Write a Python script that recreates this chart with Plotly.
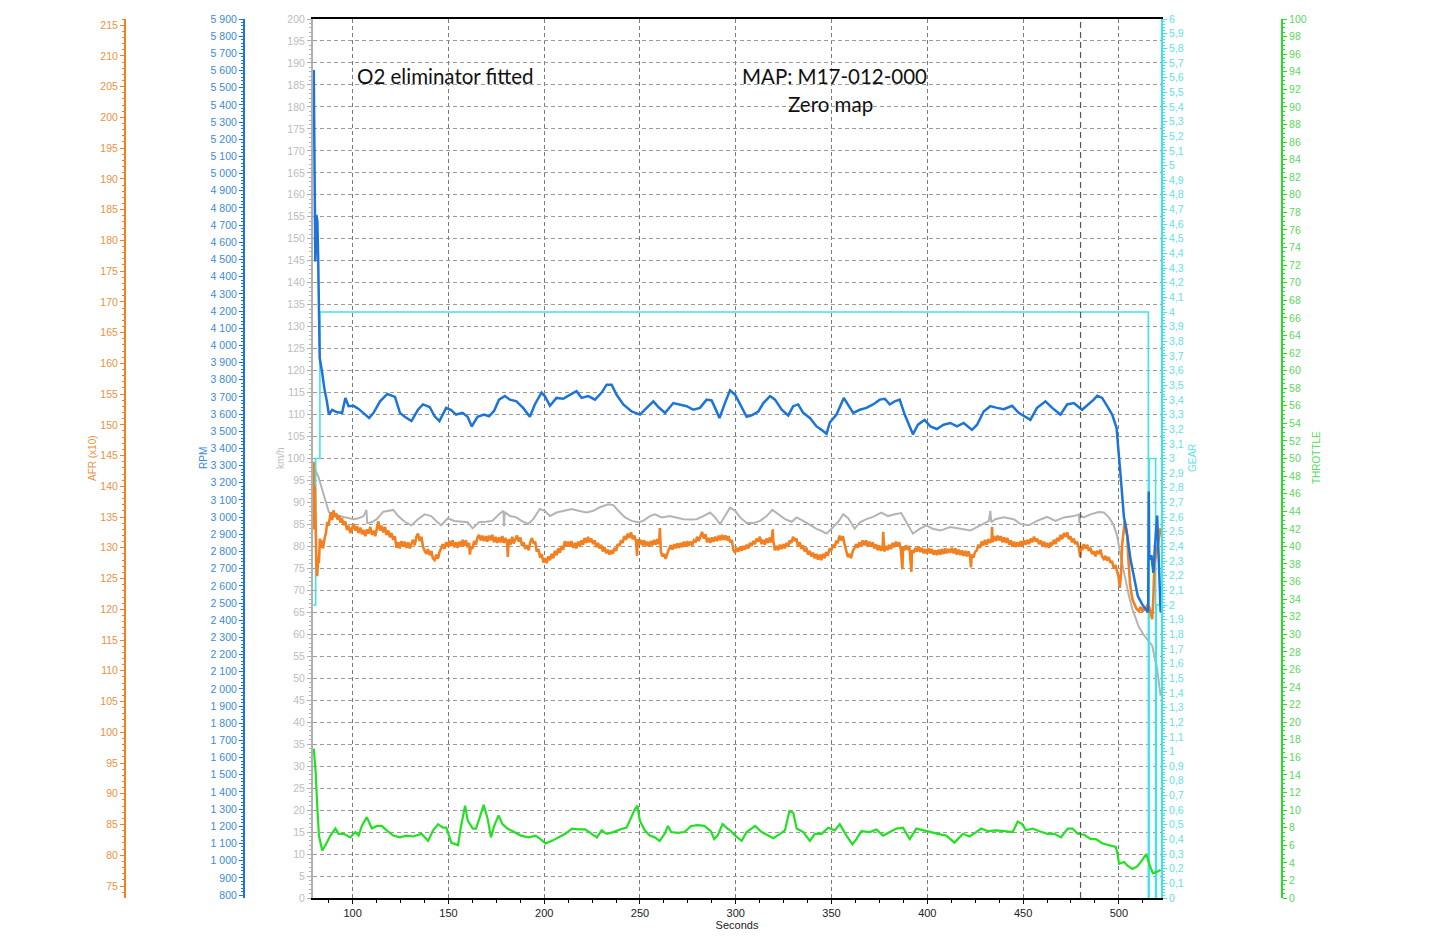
import plotly.graph_objects as go

# ---------------- data ----------------
# GEAR (step trace)
gear_points = [(79.4, 2), (80.7, 3), (82.9, 4), (515.4, 0), (515.8, 3), (519.2, 0), (519.6, 2), (522.0, 2)]

# THROTTLE (%)
throttle_points = [
    (79.7, 17.0), (80.7, 14.3), (81.5, 10.5), (82.4, 7.1), (84.1, 5.4), (85.8, 6.0), (88.4, 7.1), (91.0, 7.9),
    (92.7, 7.3), (95.3, 7.3), (98.8, 6.9), (101.4, 7.5), (103.1, 7.1), (104.8, 8.2), (107.4, 9.2), (110.0, 7.9),
    (112.6, 8.2), (115.2, 8.2), (117.8, 7.7), (121.2, 7.1), (124.7, 6.9), (128.1, 7.1), (131.6, 7.0), (135.9, 7.3),
    (139.4, 6.5), (142.0, 7.7), (144.6, 8.4), (147.1, 8.0), (148.9, 8.0), (151.5, 6.3), (155.0, 6.0), (156.6, 8.2),
    (158.7, 10.5), (160.1, 8.8), (162.7, 7.9), (164.4, 7.9), (166.1, 9.0), (168.4, 10.6), (170.5, 9.0), (172.2, 6.9),
    (173.9, 8.2), (176.2, 9.4), (178.2, 8.4), (180.8, 7.9), (184.3, 7.5), (187.7, 7.1), (192.0, 6.9), (195.5, 7.1),
    (198.1, 6.7), (200.7, 6.2), (204.1, 6.5), (207.6, 6.9), (211.0, 7.3), (214.5, 7.9), (217.9, 7.8), (221.4, 7.8),
    (224.9, 7.3), (227.5, 6.9), (230.0, 7.7), (232.6, 7.3), (236.1, 7.5), (239.5, 7.8), (243.0, 8.0), (245.6, 9.2),
    (247.3, 10.1), (248.7, 10.5), (249.9, 8.8), (252.5, 7.7), (255.1, 7.1), (257.7, 6.9), (260.3, 6.5), (262.9, 7.3),
    (264.6, 8.2), (266.3, 7.5), (269.8, 7.4), (273.2, 7.5), (276.7, 8.2), (280.1, 8.3), (283.6, 8.2), (287.0, 7.6),
    (288.7, 6.7), (290.5, 7.1), (293.1, 8.4), (295.7, 7.9), (297.0, 7.7), (299.7, 7.1), (303.1, 6.5), (305.7, 7.5),
    (310.1, 8.2), (313.5, 7.5), (317.0, 7.1), (319.6, 6.8), (323.1, 7.3), (325.7, 7.7), (328.0, 9.9), (330.0, 9.7),
    (331.8, 7.9), (335.2, 7.5), (338.7, 6.5), (341.3, 7.3), (344.8, 7.3), (348.3, 8.0), (351.7, 7.7), (354.3, 8.4),
    (357.8, 7.1), (360.9, 6.1), (363.0, 6.7), (365.6, 7.6), (370.0, 7.5), (373.4, 7.8), (376.9, 7.1), (380.4, 7.5),
    (383.9, 7.9), (387.3, 8.0), (390.8, 6.7), (394.3, 7.9), (397.7, 7.7), (401.2, 7.5), (405.5, 7.3), (409.9, 7.1),
    (414.2, 6.3), (418.6, 7.3), (422.0, 7.0), (425.5, 7.5), (428.1, 7.9), (431.6, 7.6), (435.9, 7.7), (440.3, 7.6),
    (444.6, 7.5), (447.2, 8.7), (449.5, 8.4), (451.5, 7.7), (455.0, 7.9), (458.5, 7.6), (462.8, 7.3), (466.3, 7.3),
    (469.8, 6.9), (473.3, 7.9), (475.8, 7.9), (478.5, 7.3), (481.9, 7.2), (485.4, 6.7), (488.0, 6.7), (491.5, 6.2),
    (494.9, 6.0), (498.4, 5.8), (499.3, 5.0), (500.1, 3.9), (502.7, 4.1), (504.4, 3.7), (507.0, 3.3), (509.6, 3.6),
    (512.2, 4.3), (514.3, 5.0), (516.1, 3.7), (517.8, 2.8), (520.0, 3.0), (521.8, 3.2),
]

# Speed (km/h)
speed_points = [
    (79.7, 99.0), (80.7, 97.1), (82.0, 96.0), (84.1, 93.0), (85.8, 90.0), (87.6, 87.8), (90.2, 87.3), (92.8, 86.9),
    (97.1, 86.5), (100.5, 86.2), (103.1, 86.4), (105.7, 86.9), (107.2, 88.3), (107.6, 85.3), (110.0, 85.5),
    (112.6, 86.2), (116.0, 87.9), (118.6, 88.1), (121.2, 88.3), (123.8, 86.9), (127.2, 85.6), (130.7, 84.8),
    (134.1, 86.2), (137.6, 87.3), (141.0, 86.9), (143.6, 85.8), (146.2, 84.8), (149.7, 86.4), (153.1, 85.8),
    (157.4, 85.6), (160.0, 85.5), (162.6, 84.1), (166.0, 85.5), (169.5, 85.6), (172.9, 85.8), (176.4, 87.3),
    (178.7, 88.1), (179.0, 84.6), (179.4, 87.8), (182.1, 86.9), (185.5, 86.6), (188.2, 85.8), (191.6, 85.1),
    (194.3, 86.2), (197.7, 88.5), (200.3, 88.1), (203.0, 86.9), (206.4, 87.7), (210.8, 88.1), (214.3, 88.5),
    (217.8, 88.1), (222.1, 87.7), (225.6, 88.1), (229.1, 88.9), (233.4, 89.6), (236.1, 89.4), (238.7, 88.1),
    (242.2, 86.6), (245.6, 85.8), (249.1, 85.5), (251.7, 85.8), (255.2, 86.9), (257.8, 87.3), (261.3, 86.6),
    (265.7, 86.9), (269.2, 86.6), (272.6, 86.2), (276.1, 86.1), (279.6, 86.2), (283.1, 86.9), (286.6, 87.7),
    (289.2, 86.6), (291.8, 85.1), (294.4, 86.9), (297.0, 88.8), (299.7, 88.1), (302.3, 86.6), (305.7, 85.3),
    (309.2, 85.3), (312.7, 85.8), (316.1, 86.9), (319.1, 88.3), (322.2, 87.3), (325.7, 86.2), (329.2, 85.6),
    (331.8, 86.6), (335.2, 85.8), (338.7, 84.8), (342.2, 84.0), (344.8, 83.5), (347.4, 82.9), (350.0, 84.0),
    (353.5, 85.6), (356.1, 87.3), (358.7, 86.4), (362.1, 84.0), (364.8, 85.5), (368.2, 86.2), (371.7, 86.7),
    (376.0, 87.7), (379.5, 86.9), (383.0, 87.3), (386.4, 87.6), (389.1, 85.5), (392.5, 82.9), (396.0, 84.0),
    (399.5, 84.8), (402.9, 84.0), (406.8, 83.6), (412.0, 84.4), (417.3, 84.0), (422.5, 83.6), (427.7, 84.8),
    (432.1, 85.8), (432.9, 88.1), (433.4, 85.5), (435.5, 86.2), (439.9, 86.6), (445.1, 86.2), (448.6, 85.1),
    (453.0, 84.8), (457.3, 85.8), (462.5, 86.7), (466.9, 85.8), (471.3, 86.6), (476.5, 86.9), (479.1, 87.3),
    (479.4, 85.3), (479.8, 87.0), (481.7, 86.6), (485.2, 87.3), (489.5, 87.8), (492.2, 87.7), (494.8, 86.6),
    (497.0, 85.1), (499.1, 82.4), (500.9, 77.9), (503.0, 73.3), (505.2, 68.8), (507.0, 65.8), (508.7, 63.5),
    (510.4, 61.7), (513.1, 59.8), (515.7, 58.5), (517.4, 57.4), (520.0, 52.1), (521.8, 46.0),
]

# AFR (x10)
afr_points = [
    (79.6, 144.0), (79.9, 133.0), (80.3, 140.0), (80.7, 132.5), (81.1, 127.0), (81.5, 125.4), (82.0, 128.5),
    (82.4, 127.5), (82.9, 131.5), (83.4, 130.0), (83.9, 131.2), (84.5, 129.9), (85.0, 131.0), (85.6, 131.9),
    (86.1, 132.4), (86.7, 134.2), (87.4, 133.6), (88.0, 134.9), (88.6, 135.8), (89.3, 134.5), (90.0, 136.1),
    (90.7, 135.0), (91.4, 135.6), (92.1, 134.6), (92.9, 135.3), (93.6, 134.1), (94.4, 134.8), (95.3, 133.7),
    (96.1, 134.3), (97.1, 132.9), (97.9, 133.6), (98.8, 132.4), (99.7, 133.2), (100.5, 133.9), (101.4, 132.8),
    (102.3, 133.5), (103.1, 132.4), (104.0, 133.3), (104.9, 132.2), (105.7, 132.9), (106.6, 131.9), (107.5, 133.0),
    (108.3, 132.3), (109.2, 133.4), (110.1, 132.1), (110.9, 132.8), (111.8, 131.9), (112.6, 133.1), (113.4, 134.3),
    (114.3, 132.8), (115.1, 133.6), (116.0, 132.5), (116.9, 133.4), (117.7, 132.1), (118.6, 132.8), (119.5, 131.7),
    (120.3, 132.4), (121.2, 131.3), (122.0, 131.9), (122.9, 130.0), (123.8, 130.9), (124.6, 129.9), (125.5, 131.1),
    (126.4, 130.2), (127.2, 131.0), (128.1, 130.0), (129.0, 130.9), (129.8, 129.9), (130.7, 130.7), (131.5, 131.3),
    (132.4, 130.4), (133.3, 131.8), (134.1, 132.3), (135.0, 131.1), (135.9, 131.8), (136.7, 130.2), (137.6, 129.5),
    (138.5, 129.0), (139.3, 129.8), (140.2, 128.8), (141.1, 129.5), (141.9, 128.3), (142.8, 128.0), (143.7, 128.9),
    (144.5, 128.2), (145.3, 129.3), (146.2, 129.9), (147.0, 130.6), (147.9, 129.8), (148.8, 130.9), (149.7, 130.2),
    (150.5, 131.1), (151.4, 130.3), (152.2, 131.2), (153.1, 130.1), (154.0, 130.9), (154.8, 130.0), (155.7, 131.0),
    (156.6, 130.2), (157.4, 131.3), (158.3, 130.3), (159.1, 131.2), (160.0, 130.1), (160.8, 130.8), (161.2, 128.9),
    (161.7, 130.2), (162.5, 129.8), (163.4, 131.1), (164.3, 130.5), (165.2, 131.7), (166.0, 132.1), (166.9, 131.2),
    (167.7, 132.0), (168.6, 131.1), (169.5, 131.9), (170.3, 131.0), (171.2, 132.0), (172.0, 131.2), (172.9, 132.1),
    (173.8, 130.9), (174.6, 131.8), (175.5, 130.8), (176.4, 131.7), (177.2, 130.9), (178.1, 131.9), (178.9, 130.8),
    (179.8, 131.6), (180.7, 130.6), (181.0, 128.5), (181.5, 131.4), (182.4, 130.5), (183.3, 131.8), (184.1, 130.7),
    (185.0, 131.5), (185.8, 132.0), (186.7, 131.0), (187.6, 131.7), (188.4, 130.3), (189.3, 130.9), (190.1, 129.8),
    (191.0, 130.4), (191.9, 129.6), (192.7, 130.9), (193.6, 131.6), (194.4, 130.7), (195.3, 131.0), (196.1, 129.4),
    (197.0, 129.8), (197.9, 128.4), (198.7, 129.0), (199.6, 127.6), (200.4, 128.3), (201.3, 127.5), (202.1, 128.6),
    (203.0, 128.0), (203.9, 129.0), (204.7, 128.3), (205.6, 129.5), (206.5, 128.8), (207.3, 129.9), (208.2, 129.2),
    (209.0, 130.3), (209.9, 129.7), (210.8, 131.1), (211.6, 130.3), (212.5, 131.0), (213.4, 130.2), (214.2, 131.1),
    (215.1, 130.0), (216.0, 130.8), (216.8, 129.9), (217.7, 131.0), (218.6, 130.3), (219.4, 131.2), (220.3, 130.5),
    (221.1, 131.6), (222.0, 130.8), (222.9, 131.8), (223.7, 130.9), (224.6, 131.5), (225.5, 130.6), (226.3, 131.2),
    (227.2, 130.1), (228.1, 130.8), (228.9, 129.9), (229.8, 130.5), (230.6, 129.4), (231.5, 130.1), (232.4, 129.1),
    (233.2, 129.7), (234.1, 128.9), (235.0, 129.6), (235.8, 129.0), (236.7, 130.0), (237.5, 129.5), (238.4, 130.6),
    (239.3, 130.3), (240.1, 131.2), (241.0, 130.8), (241.8, 131.9), (242.7, 131.3), (243.6, 132.3), (244.4, 131.6),
    (245.3, 132.5), (246.2, 131.4), (247.0, 132.0), (247.9, 131.1), (248.5, 128.7), (248.8, 131.4), (249.6, 130.5),
    (250.5, 131.3), (251.4, 130.4), (252.2, 131.2), (253.1, 130.3), (253.9, 131.0), (254.8, 130.2), (255.7, 131.1),
    (256.5, 130.4), (257.4, 131.3), (258.3, 130.5), (259.1, 131.4), (260.0, 130.6), (260.4, 133.2), (260.9, 129.4),
    (261.7, 128.6), (262.6, 129.0), (263.4, 128.2), (264.3, 129.1), (265.2, 129.8), (266.0, 130.4), (266.9, 129.7),
    (267.8, 130.6), (268.6, 129.9), (269.5, 130.7), (270.3, 130.0), (271.2, 130.8), (272.1, 130.1), (272.9, 131.0),
    (273.8, 130.2), (274.7, 131.1), (275.5, 130.3), (276.4, 131.0), (277.3, 130.4), (278.1, 131.2), (279.0, 130.9),
    (279.8, 131.8), (280.7, 131.1), (281.6, 132.1), (282.4, 132.6), (283.3, 131.5), (284.2, 132.2), (285.0, 130.9),
    (285.9, 131.6), (286.7, 130.8), (287.6, 131.7), (288.5, 131.0), (289.3, 131.8), (290.2, 131.1), (291.1, 132.0),
    (291.9, 131.2), (292.8, 132.1), (293.6, 131.3), (294.5, 132.0), (295.4, 131.2), (296.2, 131.9), (297.1, 130.9),
    (297.9, 131.3), (298.8, 129.6), (299.7, 129.2), (300.5, 130.0), (301.4, 129.4), (302.3, 130.2), (303.1, 129.5),
    (304.0, 130.3), (304.8, 129.7), (305.7, 130.5), (306.6, 129.9), (307.4, 130.8), (308.3, 130.3), (309.2, 131.1),
    (310.0, 130.6), (310.9, 131.5), (311.8, 131.0), (312.6, 131.8), (313.5, 130.6), (314.4, 131.3), (315.2, 130.5),
    (316.1, 131.5), (317.0, 130.8), (317.8, 131.7), (318.7, 130.9), (319.3, 133.0), (319.6, 131.2), (320.4, 129.6),
    (321.3, 130.3), (322.2, 129.6), (323.0, 130.5), (323.9, 129.8), (324.8, 130.6), (325.6, 129.9), (326.5, 130.8),
    (327.3, 130.2), (328.2, 131.2), (329.1, 130.8), (329.9, 131.8), (330.8, 131.1), (331.7, 131.5), (332.5, 130.2),
    (333.4, 130.9), (334.3, 129.8), (335.1, 130.4), (336.0, 129.4), (336.9, 130.0), (337.7, 128.9), (338.6, 129.5),
    (339.5, 128.6), (340.3, 129.2), (341.2, 128.3), (342.0, 129.0), (342.9, 128.1), (343.8, 128.9), (344.6, 128.0),
    (345.5, 129.0), (346.4, 128.3), (347.2, 129.3), (348.1, 128.7), (349.0, 129.9), (349.8, 129.5), (350.7, 130.5),
    (351.6, 130.0), (352.4, 131.0), (353.3, 130.9), (354.2, 132.0), (355.0, 131.2), (355.9, 131.9), (356.8, 130.6),
    (357.6, 129.6), (358.5, 128.5), (359.4, 129.0), (360.2, 128.3), (361.1, 129.5), (361.9, 129.9), (362.8, 130.6),
    (363.7, 130.0), (364.5, 130.9), (365.4, 130.3), (366.3, 131.2), (367.1, 130.4), (368.0, 131.2), (368.9, 130.3),
    (369.7, 131.0), (370.6, 130.2), (371.5, 130.9), (372.3, 129.9), (373.2, 130.6), (374.1, 129.6), (374.9, 130.4),
    (375.8, 129.5), (376.7, 130.2), (377.0, 132.6), (377.5, 129.4), (378.4, 130.3), (379.3, 129.6), (380.1, 130.5),
    (381.0, 129.8), (381.9, 130.8), (382.7, 130.1), (383.6, 131.0), (384.5, 130.2), (385.3, 130.9), (386.2, 129.7),
    (387.0, 126.5), (387.3, 130.1), (388.0, 129.6), (388.8, 130.4), (389.7, 129.7), (390.6, 130.3), (391.4, 127.9),
    (391.7, 126.1), (392.0, 129.6), (392.9, 129.2), (393.8, 130.0), (394.6, 129.4), (395.5, 130.2), (396.4, 129.3),
    (397.2, 130.0), (398.1, 129.1), (399.0, 129.8), (399.8, 129.0), (400.7, 129.9), (401.6, 129.1), (402.4, 129.8),
    (403.3, 128.9), (404.2, 129.6), (405.0, 128.8), (405.9, 129.7), (406.8, 128.9), (407.6, 129.8), (408.5, 129.0),
    (409.4, 129.9), (410.2, 129.1), (411.1, 129.8), (412.0, 129.2), (412.8, 130.0), (413.7, 129.1), (414.6, 129.9),
    (415.4, 128.9), (416.3, 129.7), (417.2, 128.8), (418.0, 129.6), (418.9, 128.7), (419.8, 129.5), (420.6, 128.6),
    (421.5, 129.4), (422.4, 128.5), (422.8, 126.8), (423.2, 128.9), (424.1, 128.4), (424.9, 129.3), (425.8, 129.6),
    (426.7, 130.5), (427.5, 130.0), (428.4, 131.0), (429.3, 130.4), (430.1, 131.3), (431.0, 130.5), (431.9, 131.4),
    (432.7, 130.8), (433.6, 131.5), (433.8, 133.4), (434.1, 130.9), (434.9, 131.9), (435.8, 131.1), (436.7, 132.0),
    (437.5, 131.2), (438.4, 131.9), (439.2, 130.9), (440.1, 131.7), (441.0, 130.8), (441.8, 131.6), (442.7, 130.5),
    (443.6, 131.2), (444.4, 130.2), (445.3, 131.0), (446.2, 130.1), (447.0, 130.9), (447.9, 130.2), (448.8, 131.1),
    (449.6, 130.3), (450.5, 131.2), (451.4, 130.5), (452.2, 131.3), (453.1, 130.6), (454.0, 131.5), (454.8, 130.9),
    (455.7, 131.8), (456.6, 131.0), (457.4, 131.5), (458.3, 130.6), (459.2, 131.2), (460.0, 130.3), (460.9, 131.0),
    (461.8, 130.1), (462.6, 130.8), (463.5, 130.0), (464.4, 130.9), (465.2, 130.4), (466.1, 131.3), (467.0, 130.6),
    (467.8, 131.6), (468.7, 131.1), (469.6, 132.1), (470.4, 131.4), (471.3, 132.4), (472.2, 131.8), (473.0, 132.5),
    (473.9, 131.4), (474.7, 131.9), (475.6, 130.9), (476.5, 131.5), (477.3, 130.6), (478.2, 131.0), (479.1, 130.0),
    (479.8, 128.5), (480.3, 130.3), (480.9, 129.6), (481.7, 130.6), (482.6, 129.9), (483.5, 130.5), (484.3, 129.5),
    (485.2, 130.0), (486.0, 129.0), (486.9, 129.4), (487.8, 128.6), (488.6, 129.5), (489.5, 129.0), (490.4, 129.7),
    (491.2, 128.6), (492.1, 128.2), (493.0, 128.7), (493.8, 127.9), (494.7, 128.5), (495.6, 127.6), (496.4, 127.9),
    (497.3, 126.7), (498.2, 127.2), (499.1, 125.9), (499.9, 125.2), (500.5, 123.5), (501.2, 126.0), (501.7, 130.5),
    (502.4, 133.0), (503.1, 134.3), (503.8, 133.2), (504.4, 131.9), (504.9, 128.5), (505.3, 126.2), (505.8, 124.3),
    (506.4, 122.8), (507.2, 121.5), (508.2, 120.8), (509.2, 120.1), (510.4, 119.7), (511.4, 120.4), (512.3, 119.6),
    (513.1, 120.3), (514.0, 119.8), (514.8, 120.6), (515.7, 120.5), (516.4, 119.5), (517.0, 118.8), (517.4, 118.4),
    (517.9, 121.0), (518.6, 127.4), (519.3, 128.6), (520.0, 130.1), (520.8, 131.5), (521.8, 133.2),
]

# RPM
rpm_points = [
    (79.7, 5603), (80.0, 5186), (80.5, 4488), (81.1, 4759), (81.6, 4720), (82.0, 4508), (82.3, 4178), (82.8, 3927),
    (84.0, 3848), (85.2, 3751), (86.6, 3671), (87.6, 3597), (89.3, 3625), (91.9, 3610), (94.5, 3607), (96.2, 3694),
    (97.9, 3646), (100.5, 3648), (103.1, 3630), (105.7, 3607), (108.6, 3577), (110.9, 3607), (114.3, 3674),
    (118.1, 3717), (122.1, 3700), (124.7, 3607), (127.2, 3584), (130.7, 3559), (134.1, 3625), (136.7, 3656),
    (140.2, 3641), (142.8, 3587), (145.3, 3559), (148.8, 3636), (151.4, 3623), (154.0, 3597), (157.4, 3607),
    (160.0, 3584), (162.2, 3528), (165.2, 3584), (168.6, 3597), (171.2, 3587), (173.8, 3618), (176.4, 3684),
    (179.5, 3705), (182.1, 3684), (185.5, 3674), (189.0, 3636), (192.5, 3584), (195.1, 3656), (198.6, 3725),
    (200.3, 3705), (203.0, 3648), (206.4, 3694), (209.9, 3689), (213.4, 3712), (216.9, 3733), (219.5, 3694),
    (223.0, 3705), (226.5, 3684), (230.0, 3725), (232.6, 3771), (235.2, 3771), (237.8, 3712), (241.3, 3656),
    (245.6, 3615), (250.0, 3597), (253.5, 3636), (257.0, 3674), (259.6, 3641), (263.1, 3607), (267.4, 3664),
    (270.9, 3656), (274.4, 3646), (277.9, 3625), (281.3, 3636), (284.8, 3684), (287.4, 3679), (289.2, 3636),
    (291.5, 3577), (294.4, 3665), (297.0, 3738), (299.7, 3712), (302.3, 3656), (305.7, 3584), (308.3, 3592),
    (311.8, 3615), (314.4, 3664), (317.9, 3705), (320.5, 3684), (324.0, 3625), (327.4, 3592), (330.0, 3646),
    (332.6, 3656), (335.2, 3607), (338.7, 3577), (342.2, 3528), (344.8, 3508), (347.4, 3485), (349.1, 3551),
    (352.6, 3597), (356.4, 3694), (358.7, 3656), (361.3, 3607), (364.8, 3625), (368.2, 3636), (371.7, 3656),
    (375.2, 3684), (377.8, 3689), (380.4, 3656), (383.0, 3674), (385.6, 3684), (388.2, 3597), (390.8, 3528),
    (392.5, 3482), (395.1, 3538), (398.6, 3566), (401.6, 3528), (405.0, 3513), (408.5, 3538), (412.0, 3548),
    (415.5, 3528), (419.0, 3548), (423.3, 3508), (426.0, 3538), (429.4, 3615), (432.9, 3646), (436.4, 3636),
    (439.9, 3628), (444.3, 3648), (447.7, 3607), (451.2, 3584), (453.8, 3566), (457.3, 3636), (461.7, 3674),
    (465.2, 3636), (469.5, 3597), (473.0, 3656), (476.5, 3664), (480.8, 3625), (484.3, 3656), (486.9, 3684),
    (488.7, 3707), (491.3, 3694), (493.9, 3646), (496.5, 3597), (498.8, 3520), (500.0, 3375), (501.2, 3201),
    (502.6, 3006), (504.4, 2891), (506.1, 2753), (508.2, 2627), (509.9, 2540), (512.2, 2492), (513.9, 2464),
    (515.3, 2446), (515.6, 3149), (515.9, 2753), (517.0, 2778), (518.0, 2676), (519.3, 2906), (520.0, 3009),
    (521.0, 2702), (521.8, 2446),
]

annotations_text = ["O2 eliminator fitted", "MAP: M17-012-000", "Zero map"]
marker_second = 480


def split(points):
    return [p[0] for p in points], [p[1] for p in points]


# ---------------- geometry / styles ----------------
W, H = 1434, 951
PL, PR = 313, 1161
x_dom = [PL / W, PR / W]

C_AFR = "#f28021"
C_AFR_T = "#e99244"
C_RPM = "#1c74d8"
C_RPM_T = "#3a8ad8"
C_KMH = "#b4b4b4"
C_KMH_T = "#bcbcbc"
C_GEAR = "#3fe3ea"
C_GEAR_T = "#63dfe8"
C_THR = "#22e022"
C_THR_T = "#5cd85c"

TF = "Liberation Sans, Arial, sans-serif"

fig = go.Figure()

gt, gv = split(gear_points)
fig.add_trace(go.Scatter(x=gt, y=gv, yaxis="y2", mode="lines", line=dict(color=C_GEAR, width=1.6, shape="hv")))
tt, tv = split(throttle_points)
fig.add_trace(go.Scatter(x=tt, y=tv, yaxis="y3", mode="lines", line=dict(color=C_THR, width=2.2)))
st, sv = split(speed_points)
fig.add_trace(go.Scatter(x=st, y=sv, yaxis="y", mode="lines", line=dict(color=C_KMH, width=2)))
at, av = split(afr_points)
fig.add_trace(go.Scatter(x=at, y=av, yaxis="y4", mode="lines", line=dict(color=C_AFR, width=2.6)))
rt, rv = split(rpm_points)
fig.add_trace(go.Scatter(x=rt, y=rv, yaxis="y5", mode="lines", line=dict(color=C_RPM, width=2.5)))


def side_axis(color, tcolor, rng, dtick, minor_dtick, side, position=None, anchor="free", **kw):
    d = dict(
        range=rng, dtick=dtick, tick0=0, side=side, showgrid=False, zeroline=False,
        showline=True, linecolor=color, linewidth=2, ticks="outside", ticklen=4, tickwidth=1,
        tickcolor=color, tickfont=dict(family=TF, size=10.5, color=tcolor),
        minor=dict(dtick=minor_dtick, ticklen=2, tickcolor=color, showgrid=False),
        fixedrange=True,
    )
    if anchor == "free":
        d.update(anchor="free", position=position, overlaying="y")
    else:
        d.update(anchor=anchor, overlaying="y")
    d.update(kw)
    return d


fig.update_layout(
    width=W, height=H,
    margin=dict(l=0, r=0, t=19, b=53),
    paper_bgcolor="white", plot_bgcolor="white",
    showlegend=False, hovermode=False,
    separators=", ",
    xaxis=dict(
        domain=x_dom, range=[79.3, 522.0], dtick=50, tick0=0,
        showgrid=True, gridcolor="#7a7a7a", griddash="4px,3px", gridwidth=1,
        zeroline=False, showline=True, linecolor="black", linewidth=2, mirror=True,
        ticks="outside", ticklen=4, tickcolor="black",
        minor=dict(dtick=12.5, ticklen=3, tickcolor="black", showgrid=False),
        tickfont=dict(family=TF, size=11, color="#222"),
        title=dict(text="Seconds", font=dict(family=TF, size=11, color="#222"), standoff=2),
    ),
    yaxis=dict(
        domain=[0, 1], range=[0, 200], dtick=5, tick0=0,
        showgrid=True, gridcolor="#9a9a9a", griddash="4px,3px", gridwidth=1,
        zeroline=False, showline=True, linecolor="#b0b0b0", linewidth=2,
        ticks="outside", ticklen=4, tickcolor="#b0b0b0",
        minor=dict(dtick=1, ticklen=2, tickcolor="#b0b0b0", showgrid=False),
        tickfont=dict(family=TF, size=10.5, color=C_KMH_T),
    ),
    yaxis2=side_axis(C_GEAR, C_GEAR_T, [0, 6], 0.1, 0.02, "right", anchor="x"),
    yaxis3=side_axis(C_THR, C_THR_T, [0, 100], 2, 0.5, "right", position=1282 / W),
    yaxis4=side_axis(C_AFR, C_AFR_T, [73.05, 216.0], 5, 1, "left", position=125 / W),
    yaxis5=side_axis(C_RPM, C_RPM_T, [782.6, 5900], 100, 20, "left", position=244 / W,
                     separatethousands=True),
)

# dashed marker line
fig.add_shape(type="line", xref="x", yref="paper", x0=marker_second, x1=marker_second, y0=0, y1=1,
              line=dict(color="#555555", width=1.2, dash="6px,4px"))

# text annotations inside the plot
AF = "Lato, Open Sans, sans-serif"
fig.add_annotation(x=101.0, y=187.0, xref="x", yref="y", text=annotations_text[0], showarrow=False,
                   xanchor="left", yanchor="middle", font=dict(family=AF, size=20.5, color="#111"))
fig.add_annotation(x=302.0, y=187.0, xref="x", yref="y", text=annotations_text[1], showarrow=False,
                   xanchor="left", yanchor="middle", font=dict(family=AF, size=20.5, color="#111"))
fig.add_annotation(x=349.2, y=180.6, xref="x", yref="y", text=annotations_text[2], showarrow=False,
                   xanchor="center", yanchor="middle", font=dict(family=AF, size=20.5, color="#111"))

# axis titles (rotated)
titles = [("AFR (x10)", 92, C_AFR_T), ("RPM", 203, C_RPM_T), ("km/h", 280, C_KMH_T),
          ("GEAR", 1192, C_GEAR_T), ("THROTTLE", 1316, C_THR_T)]
for txt, px, col in titles:
    fig.add_annotation(x=px / W, y=(898 - 458) / 879, xref="paper", yref="paper", text=txt,
                       showarrow=False, textangle=-90, xanchor="center", yanchor="middle",
                       font=dict(family=TF, size=10, color=col))

fig.write_html("out.html", config={"displayModeBar": False},
               post_script="document.body.style.margin='0';document.body.style.overflow='hidden';")
